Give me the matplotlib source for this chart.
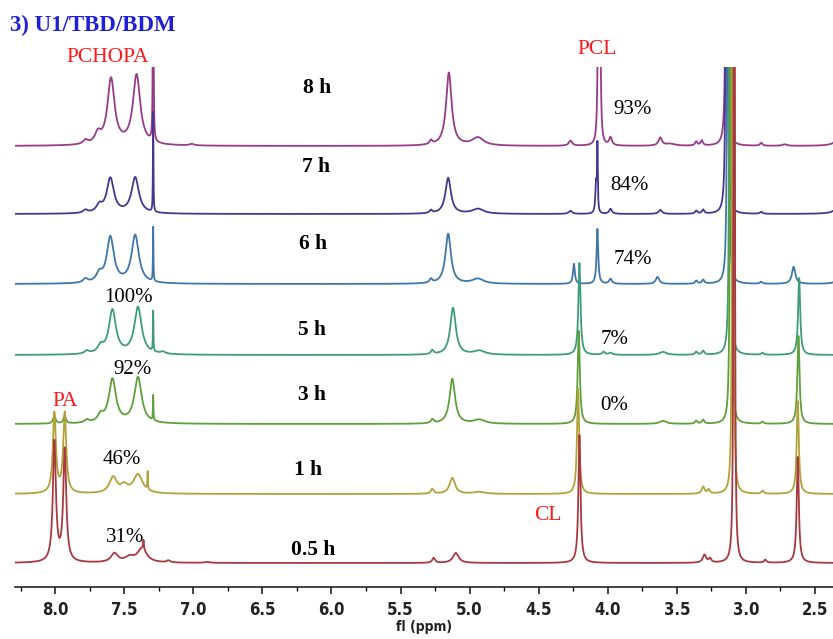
import numpy as np
import matplotlib
matplotlib.use("Agg")
import matplotlib.pyplot as plt
from matplotlib.ticker import MultipleLocator

# 谱图数据：每条谱线的峰表 (化学位移 ppm, 峰高, 半峰宽)，峰高单位约为像素
times = ["0.5 h", "1 h", "3 h", "5 h", "6 h", "7 h", "8 h"]
offsets = [24, 93, 163, 232, 303, 373, 441]
colors = ["#a83a3f", "#b3a23a", "#5f9f3c", "#3f9c7a", "#4077a8", "#46378f", "#963c88"]

peaks_05h = [(8.005, 120, 0.013), (7.93, 112, 0.013), (7.57, 9, 0.03), (7.46, 5, 0.04),
             (7.37, 14, 0.04), (7.36, 9, 0.003), (7.18, 2, 0.015), (6.9, 1, 0.02),
             (5.26, 5, 0.012), (5.10, 10, 0.025), (4.205, 128, 0.009), (3.30, 8, 0.015),
             (3.26, 4, 0.01), (3.085, 5000, 0.0017), (2.86, 3, 0.01), (2.625, 106, 0.009)]
peaks_1h = [(8.005, 80, 0.013), (7.93, 80, 0.013), (7.58, 16, 0.032), (7.50, 7, 0.03),
            (7.40, 19, 0.04), (7.33, 18, 0.002), (5.27, 5, 0.012), (5.125, 16, 0.024),
            (4.93, 2, 0.05), (4.215, 105, 0.009), (3.31, 7, 0.012), (3.27, 4, 0.01),
            (3.095, 5000, 0.0017), (2.88, 3, 0.01), (2.625, 93, 0.009)]
peaks_3h = [(8.005, 8, 0.01), (7.93, 8, 0.01), (7.77, 3, 0.02), (7.67, 7, 0.025),
            (7.585, 44, 0.031), (7.40, 46, 0.032), (7.29, 25, 0.002), (5.27, 4, 0.012),
            (5.125, 45, 0.024), (4.93, 4, 0.05), (4.21, 93, 0.009), (3.60, 3, 0.03),
            (3.36, 3, 0.01), (3.31, 4, 0.01), (3.11, 5000, 0.0017), (2.88, 2, 0.01),
            (2.62, 88, 0.009)]
peaks_5h = [(7.77, 3, 0.02), (7.67, 7, 0.025), (7.585, 44, 0.031), (7.40, 47, 0.032),
            (7.29, 40, 0.002), (7.22, 2, 0.02), (5.27, 4, 0.012), (5.12, 47, 0.024),
            (4.93, 4, 0.05), (4.205, 92, 0.009), (4.03, 3, 0.012), (3.98, 2, 0.015),
            (3.60, 3, 0.03), (3.36, 3, 0.01), (3.31, 4, 0.01), (3.115, 5000, 0.0017),
            (2.88, 2, 0.01), (2.615, 77, 0.009)]
peaks_6h = [(7.78, 4, 0.02), (7.68, 8, 0.025), (7.60, 46, 0.031), (7.42, 48, 0.032),
            (7.29, 54, 0.002), (5.28, 4, 0.012), (5.155, 50, 0.024), (4.94, 5, 0.05),
            (4.245, 20, 0.008), (4.075, 55, 0.007), (3.98, 5, 0.012), (3.64, 7, 0.015),
            (3.36, 3, 0.01), (3.31, 4, 0.01), (3.13, 5000, 0.0017), (2.89, 2, 0.01),
            (2.655, 17, 0.015), (2.30, 20, 0.02)]
peaks_7h = [(7.78, 3, 0.02), (7.68, 7, 0.025), (7.60, 35, 0.031), (7.42, 36, 0.032),
            (7.29, 100, 0.002), (5.28, 3, 0.012), (5.155, 36, 0.024), (4.94, 5, 0.05),
            (4.27, 3, 0.015), (4.085, 30, 0.006), (4.075, 65, 0.003), (3.98, 5, 0.012),
            (3.62, 4, 0.015), (3.36, 3, 0.01), (3.31, 4, 0.01), (3.14, 5000, 0.0017),
            (2.89, 2, 0.01), (2.30, 40, 0.02)]
peaks_8h = [(7.78, 4, 0.02), (7.69, 10, 0.025), (7.595, 66, 0.031), (7.41, 70, 0.032),
            (7.29, 400, 0.002), (7.01, 1.5, 0.02), (5.28, 4, 0.012), (5.15, 73, 0.024),
            (4.94, 8, 0.05), (4.27, 5, 0.015), (4.07, 110, 0.006), (4.055, 110, 0.006),
            (3.98, 8, 0.012), (3.62, 8, 0.015), (3.55, 2, 0.04), (3.36, 4, 0.01),
            (3.32, 5, 0.01), (3.14, 5000, 0.0017), (2.89, 3, 0.01), (2.72, 1.5, 0.02),
            (2.30, 40, 0.02)]
peak_lists = [peaks_05h, peaks_1h, peaks_3h, peaks_5h, peaks_6h, peaks_7h, peaks_8h]

# 文字标注
time_pos = [(6.13, 37), (6.17, 117), (6.14, 192), (6.14, 257), (6.13, 343), (6.11, 420), (6.10, 499)]
pct_labels = ["100%", "92%", "46%", "31%", "93%", "84%", "74%", "7%", "0%"]
pct_pos = [(7.47, 289), (7.44, 217), (7.515, 127), (7.49, 50), (3.82, 477),
           (3.84, 401), (3.82, 327), (3.95, 247), (3.95, 182)]
red_labels = ["PCHOPA", "PCL", "PA", "CL"]
red_pos = [(7.62, 530), (4.08, 537), (7.93, 185), (4.43, 72)]

x_left, x_right = 8.29, 2.37
ppm = np.linspace(x_left, x_right, 10000)


def spectrum(peaks):
    y = np.zeros_like(ppm)
    for x0, h, g in peaks:
        y += h * g**2 / ((ppm - x0)**2 + g**2)
    return y


fig = plt.figure(figsize=(8.33, 6.39), dpi=100)
ax = fig.add_axes([15 / 833, 52 / 639, 818 / 833, 520 / 639])

n = len(times)
for i in range(n - 1, -1, -1):
    ax.plot(ppm, spectrum(peak_lists[i]) + offsets[i], color=colors[i], lw=1.3,
            zorder=10 - i)

ax.set_xlim(x_left, x_right)
ax.set_ylim(0, 520)
for s in ["top", "left", "right"]:
    ax.spines[s].set_visible(False)
ax.spines["bottom"].set_color("#222222")
ax.spines["bottom"].set_linewidth(1.2)
ax.set_yticks([])
ax.xaxis.set_major_locator(MultipleLocator(0.5))
ax.xaxis.set_minor_locator(MultipleLocator(0.25))
ax.tick_params(axis="x", which="major", direction="out", length=5, width=1.2, pad=5,
               colors="#222222")
ax.tick_params(axis="x", which="minor", direction="out", length=3, width=1.0)
for lab in ax.get_xticklabels():
    lab.set_fontfamily("DejaVu Sans")
    lab.set_fontstretch("condensed")
    lab.set_fontweight("bold")
    lab.set_fontsize(12)
    lab.set_color("#222222")
ax.set_xlabel("fl (ppm)", fontsize=10, fontweight="bold", fontstretch="condensed",
              labelpad=1, color="#222222")

serif = ["Liberation Serif", "DejaVu Serif"]
for t, (x, y) in zip(times, time_pos):
    ax.text(x, y, t, ha="center", va="center", fontsize=15.5, fontweight="bold",
            family=serif, zorder=20)
for t, (x, y) in zip(pct_labels, pct_pos):
    ax.text(x, y, t, ha="center", va="center", fontsize=15, family=serif, zorder=20)
for t, (x, y) in zip(red_labels, red_pos):
    ax.text(x, y, t, ha="center", va="center", fontsize=15.5, family=serif,
            color="#ff1a1a", zorder=20)

fig.text(10 / 833, 1 - 25 / 639, "3) U1/TBD/BDM", ha="left", va="center", fontsize=16.5,
         fontweight="bold", family=serif, color="#1f1fd8")

fig.savefig("out.png", dpi=100)
